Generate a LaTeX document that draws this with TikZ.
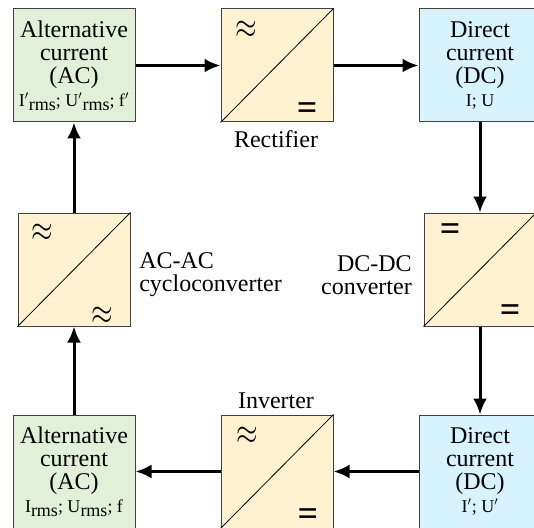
\documentclass[tikz,border=0pt]{standalone}
\usepackage{fontspec}
\setmainfont{Liberation Serif}
\usepackage{graphicx}
\usetikzlibrary{arrows.meta}
\definecolor{acgreen}{RGB}{226,240,217}
\definecolor{dcblue}{RGB}{214,243,254}
\definecolor{convyellow}{RGB}{254,242,208}
\definecolor{bordergray}{RGB}{64,64,64}
\newcommand\boxfont{\fontsize{18pt}{17.25pt}\selectfont}
\newcommand\subfont{\fontsize{13.5pt}{15pt}\selectfont}
\newcommand\apx{\fontsize{21pt}{22pt}\selectfont\scalebox{1}[1.3]{$\approx$}}
\newcommand\eqs{\fontsize{27pt}{28pt}\selectfont\bfseries =}
\newcommand\rms{\raisebox{-3pt}{rms}}
\begin{document}
\begin{tikzpicture}[x=0.75pt,y=-0.75pt,
  box/.style={draw=bordergray, line width=0.75pt, inner sep=0pt, align=center, font=\boxfont, minimum height=84.75pt},
  acbox/.style={box, fill=acgreen, minimum width=91.5pt},
  dcbox/.style={box, fill=dcblue, minimum width=91.5pt},
  convbox/.style={box, fill=convyellow, minimum width=84pt},
  sym/.style={inner sep=0pt},
  lbl/.style={inner sep=0pt, font=\boxfont},
  diag/.style={line width=0.6pt, black},
  arr/.style={line width=2.25pt, -{Latex[length=12pt,width=10.5pt]}}]
\useasboundingbox (0,0) rectangle (534,527);
\fill[white] (0,0) rectangle (534,527);
\clip (0,0) rectangle (534,527);
% boxes
\node[acbox] (ac1) at (74,65.5) {Alternative\\current\\(AC)\\{\subfont I$'$\rms; U$'$\rms; f$'$}};
\node[convbox] (rect) at (277,65.5) {};
\node[dcbox] (dc1) at (480,65.5) {Direct\\current\\(DC)\\{\subfont I; U}};
\node[convbox] (cyc) at (74,269.5) {};
\node[convbox] (dcdc) at (480,269.5) {};
\node[acbox] (ac2) at (74,471.5) {Alternative\\current\\(AC)\\{\subfont I\rms; U\rms; f}};
\node[convbox] (inv) at (277,471.5) {};
\node[dcbox] (dc2) at (480,471.5) {Direct\\current\\(DC)\\{\subfont I$'$; U$'$}};
% diagonals
\foreach \n in {rect,cyc,dcdc,inv} \draw[diag] (\n.south west) -- (\n.north east);
% symbols
\node[sym] (rect-a) at ([shift={(-31,-36)}]rect.center) {\apx};
\node[sym] (rect-b) at ([shift={(30,46)}]rect.center) {\eqs};
\node[sym] (cyc-a) at ([shift={(-32,-37)}]cyc.center) {\apx};
\node[sym] (cyc-b) at ([shift={(28,46)}]cyc.center) {\apx};
\node[sym] (dcdc-a) at ([shift={(-30,-37)}]dcdc.center) {\eqs};
\node[sym] (dcdc-b) at ([shift={(30,44)}]dcdc.center) {\eqs};
\node[sym] (inv-a) at ([shift={(-30,-36)}]inv.center) {\apx};
\node[sym] (inv-b) at ([shift={(31,46)}]inv.center) {\eqs};
% labels
\node[lbl, anchor=base] (lrect) at (276,148) {Rectifier};
\node[lbl, anchor=base] (linv) at (276,408) {Inverter};
\node[lbl, anchor=west, align=left] (lcyc) at (139,275) {AC-AC\\cycloconverter};
\node[lbl, anchor=east, align=right] (ldcdc) at (412,275) {DC-DC\\converter};
% connectors
\draw[arr] (ac1) -- (rect);
\draw[arr] (rect) -- (dc1);
\draw[arr] (dc1) -- (dcdc);
\draw[arr] (dcdc) -- (dc2);
\draw[arr] (dc2) -- (inv);
\draw[arr] (inv) -- (ac2);
\draw[arr] (ac2) -- (cyc);
\draw[arr] (cyc) -- (ac1);
\end{tikzpicture}
\end{document}
